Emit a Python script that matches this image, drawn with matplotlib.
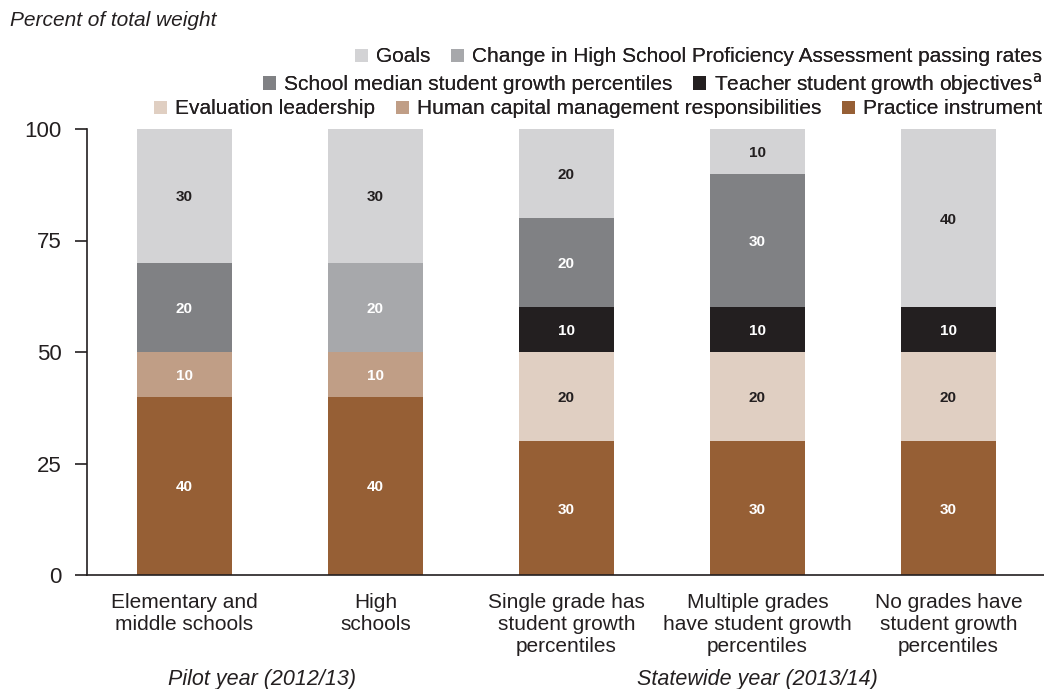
import matplotlib
matplotlib.use("Agg")
import matplotlib.pyplot as plt
from matplotlib import font_manager
from matplotlib.patches import Patch

available = {f.name for f in font_manager.fontManager.ttflist}
NARROW = "Liberation Sans Narrow" if "Liberation Sans Narrow" in available else "Liberation Sans"
plt.rcParams["font.family"] = [NARROW, "DejaVu Sans"]

categories = [
    "Elementary and\nmiddle schools",
    "High\nschools",
    "Single grade has\nstudent growth\npercentiles",
    "Multiple grades\nhave student growth\npercentiles",
    "No grades have\nstudent growth\npercentiles",
]

# Components stacked from bottom to top
practice_instrument = [40, 40, 30, 30, 30]
human_capital = [10, 10, 0, 0, 0]
evaluation_leadership = [0, 0, 20, 20, 20]
teacher_sgo = [0, 0, 10, 10, 10]
school_median_sgp = [20, 0, 20, 30, 0]
hspa_change = [0, 20, 0, 0, 0]
goals = [30, 30, 20, 10, 40]

series_names = [
    "Practice instrument",
    "Human capital management responsibilities",
    "Evaluation leadership",
    "Teacher student growth objectives$^{\\mathrm{a}}$",
    "School median student growth percentiles",
    "Change in High School Proficiency Assessment passing rates",
    "Goals",
]
series_values = [practice_instrument, human_capital, evaluation_leadership,
                 teacher_sgo, school_median_sgp, hspa_change, goals]
series_colors = ["#965f35", "#c09e86", "#e0cfc2", "#231f20",
                 "#808184", "#a7a8ab", "#d3d3d5"]
label_colors = ["white", "white", "#231f20", "white", "white", "white", "#231f20"]

fig = plt.figure(figsize=(10.44, 6.89), dpi=100)
ax = fig.add_axes([87 / 1044, 1 - 575 / 689, 1 - 87 / 1044, (575 - 129) / 689])

x = list(range(len(categories)))
bottoms = [0] * len(categories)
handles = {}
for name, vals, col, lcol in zip(series_names, series_values, series_colors, label_colors):
    ax.bar(x, vals, width=0.5, bottom=bottoms, color=col, linewidth=0)
    handles[name] = Patch(facecolor=col, edgecolor="none")
    for xi, v, b in zip(x, vals, bottoms):
        if v > 0:
            ax.text(xi, b + v / 2, f"{v}", ha="center", va="center_baseline",
                    fontsize=11, fontweight="bold", color=lcol,
                    family=["Liberation Sans", "DejaVu Sans"])
    bottoms = [b + v for b, v in zip(bottoms, vals)]

ax.set_ylim(0, 100)
ax.set_xlim(-0.51, 4.5)
ax.set_yticks([0, 25, 50, 75, 100])
ax.set_xticks(x)
ax.set_xticklabels(categories, fontsize=15, linespacing=1.2)
ax.tick_params(axis="x", length=0, pad=13, labelcolor="#231f20")
ax.tick_params(axis="y", length=9, width=1.2, pad=9, labelsize=16,
               color="#231f20", labelcolor="#231f20")
for lbl in ax.get_yticklabels():
    lbl.set_family(["Liberation Sans", "DejaVu Sans"])
for side in ("top", "right"):
    ax.spines[side].set_visible(False)
for side in ("left", "bottom"):
    ax.spines[side].set_color("#231f20")
    ax.spines[side].set_linewidth(1.2)

fig.text(10 / 1044, 1 - 20 / 689, "Percent of total weight", style="italic",
         fontsize=15, va="center", ha="left", color="#231f20")

legend_rows = [
    ["Goals", "Change in High School Proficiency Assessment passing rates"],
    ["School median student growth percentiles", "Teacher student growth objectives$^{\\mathrm{a}}$"],
    ["Evaluation leadership", "Human capital management responsibilities", "Practice instrument"],
]
row_y = [57, 84, 109]
for names, yy in zip(legend_rows, row_y):
    leg = fig.legend([handles[n] for n in names], names, ncol=len(names),
                     loc="center right", bbox_to_anchor=(1042 / 1044, 1 - yy / 689),
                     frameon=False, fontsize=15, handlelength=0.6, handleheight=0.6,
                     handletextpad=0.4, columnspacing=1.0, borderpad=0, borderaxespad=0,
                     labelcolor="#231f20")
    fig.add_artist(leg)

fig.text(262 / 1044, 1 - 680 / 689, "Pilot year (2012/13)", style="italic",
         fontsize=15.5, ha="center", va="center", color="#231f20")
fig.text(757 / 1044, 1 - 680 / 689, "Statewide year (2013/14)", style="italic",
         fontsize=15.5, ha="center", va="center", color="#231f20")

fig.savefig("out.png", dpi=100)
